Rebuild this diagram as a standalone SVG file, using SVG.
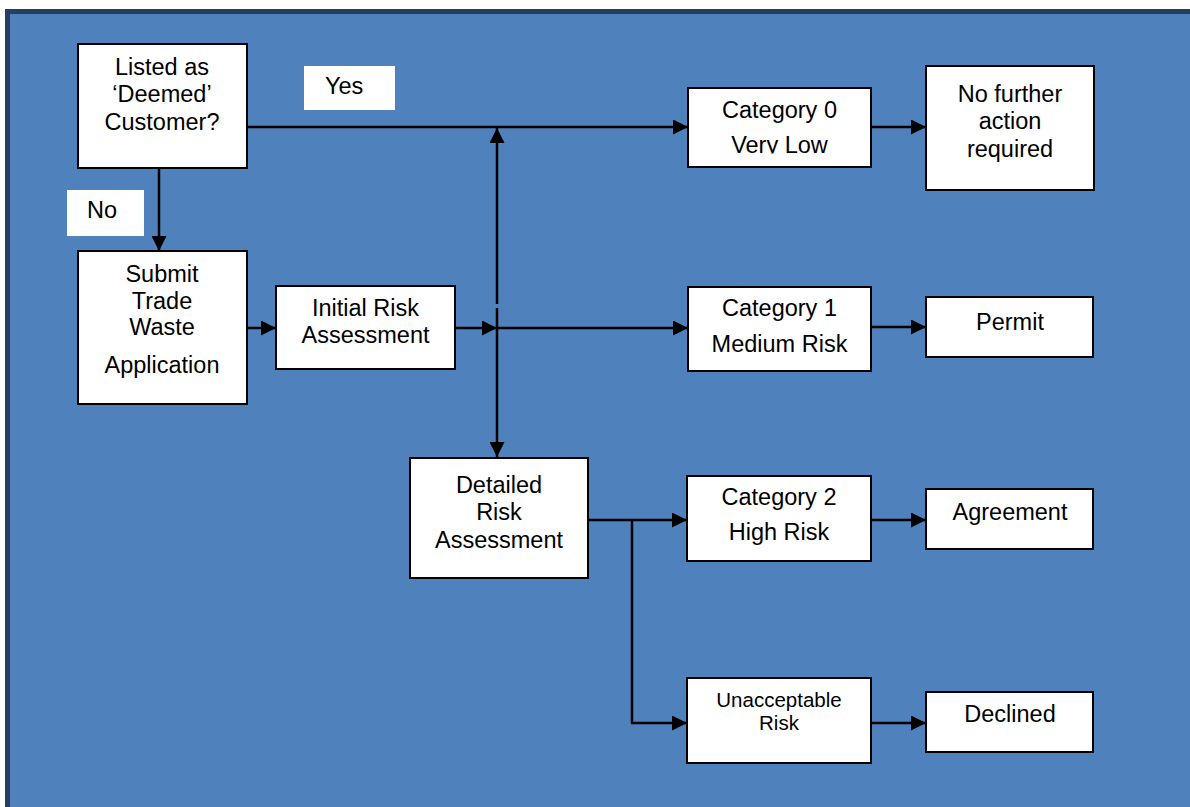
<svg xmlns="http://www.w3.org/2000/svg" width="1190" height="807" viewBox="0 0 1190 807">
<style>
.box{fill:#fff;stroke:#000;stroke-width:2}
.lbl{fill:#fff;stroke:none}
.t{font-family:"Liberation Sans",Arial,sans-serif;font-size:23.5px;fill:#000;text-anchor:middle}
.ts{font-family:"Liberation Sans",Arial,sans-serif;font-size:20.5px;fill:#000;text-anchor:middle}
.tl{font-family:"Liberation Sans",Arial,sans-serif;font-size:23.5px;fill:#000}
.c{fill:none;stroke:#000;stroke-width:2.5}
.a{stroke:#000;stroke-width:2.5;fill:none;marker-end:url(#ah)}
</style>
<defs>
<marker id="ah" viewBox="0 0 10 10" refX="10" refY="5" markerUnits="userSpaceOnUse" markerWidth="15" markerHeight="15" orient="auto">
<path d="M0,0 L10,5 L0,10 Z" fill="#000"/>
</marker>
<clipPath id="clip0"><rect x="688" y="88" width="183" height="65.5"/></clipPath>
</defs>
<rect x="0" y="0" width="1190" height="807" fill="#fff"/>
<rect x="7.5" y="11.5" width="1200" height="820" fill="#4F81BD" stroke="#243F60" stroke-width="5"/>

<g id="connectors">
<path class="a" d="M247,127 H688"/>
<path class="a" d="M159,168 V251"/>
<path class="a" d="M247,328 H276"/>
<path class="a" d="M455,328 H497"/>
<path class="a" d="M497,328 H688"/>
<path class="a" d="M497,304 V128"/>
<path class="a" d="M497,308 V457"/>
<path class="a" d="M871,127 H926"/>
<path class="a" d="M871,327 H926"/>
<path class="a" d="M588,520 H687"/>
<path class="c" d="M632,520 V723"/>
<path class="a" d="M631,723 H687"/>
<path class="a" d="M871,520 H926"/>
<path class="a" d="M871,723 H926"/>
</g>

<g id="label-yes">
<rect class="lbl" x="304" y="66" width="91" height="44"/>
<text class="tl" x="325" y="94">Yes</text>
</g>
<g id="label-no">
<rect class="lbl" x="67" y="190" width="77" height="46"/>
<text class="tl" x="87" y="218">No</text>
</g>

<g id="listed">
<rect class="box" x="78" y="44" width="169" height="124"/>
<text class="t" x="162" y="75">Listed as</text>
<text class="t" x="162" y="102">‘Deemed’</text>
<text class="t" x="162" y="130">Customer?</text>
</g>
<g id="submit">
<rect class="box" x="78" y="251" width="169" height="153"/>
<text class="t" x="162" y="282">Submit</text>
<text class="t" x="162" y="309">Trade</text>
<text class="t" x="162" y="335">Waste</text>
<text class="t" x="162" y="373">Application</text>
</g>
<g id="initial">
<rect class="box" x="276" y="286" width="179" height="83"/>
<text class="t" x="365.5" y="316">Initial Risk</text>
<text class="t" x="365.5" y="343">Assessment</text>
</g>
<g id="detailed">
<rect class="box" x="410" y="458" width="178" height="120"/>
<text class="t" x="499" y="493">Detailed</text>
<text class="t" x="499" y="520">Risk</text>
<text class="t" x="499" y="548">Assessment</text>
</g>
<g id="cat0">
<rect class="box" x="688" y="88" width="183" height="79"/>
<text class="t" x="779.5" y="118">Category 0</text>
<text class="t" x="779.5" y="153" clip-path="url(#clip0)">Very Low</text>
</g>
<g id="cat1">
<rect class="box" x="688" y="287" width="183" height="84"/>
<text class="t" x="779.5" y="316">Category 1</text>
<text class="t" x="779.5" y="352">Medium Risk</text>
</g>
<g id="cat2">
<rect class="box" x="687" y="476" width="184" height="85"/>
<text class="t" x="779" y="505">Category 2</text>
<text class="t" x="779" y="540">High Risk</text>
</g>
<g id="unacceptable">
<rect class="box" x="687" y="678" width="184" height="85"/>
<text class="ts" x="779" y="707">Unacceptable</text>
<text class="ts" x="779" y="730">Risk</text>
</g>
<g id="nofurther">
<rect class="box" x="926" y="66" width="168" height="124"/>
<text class="t" x="1010" y="102">No further</text>
<text class="t" x="1010" y="129">action</text>
<text class="t" x="1010" y="157">required</text>
</g>
<g id="permit">
<rect class="box" x="926" y="297" width="167" height="60"/>
<text class="t" x="1010" y="330">Permit</text>
</g>
<g id="agreement">
<rect class="box" x="926" y="489" width="167" height="60"/>
<text class="t" x="1010" y="520">Agreement</text>
</g>
<g id="declined">
<rect class="box" x="926" y="692" width="167" height="60"/>
<text class="t" x="1010" y="722">Declined</text>
</g>
</svg>
